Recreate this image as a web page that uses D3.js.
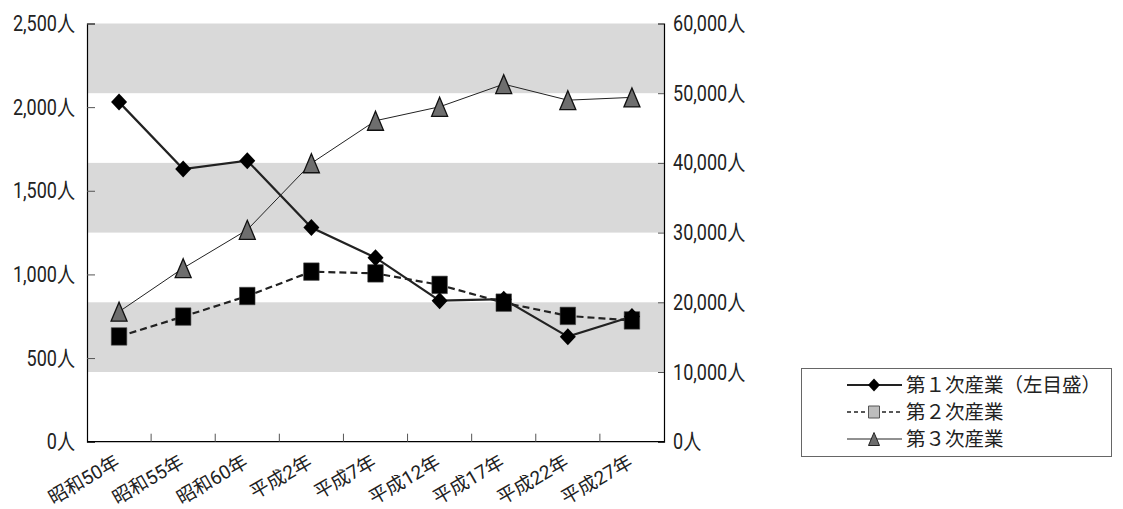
<!DOCTYPE html>
<html lang="ja">
<head>
<meta charset="utf-8">
<script src="https://cdn.jsdelivr.net/npm/d3@7"></script>
<style>
  html, body { margin: 0; padding: 0; background: #fff; }
  svg text { font-family: "Roboto", "Noto Sans CJK JP", sans-serif; fill: #222; }
</style>
</head>
<body>
<svg id="chart" width="1123" height="509"></svg>
<script>
// 産業別就業者数の推移
const years = ["昭和50年", "昭和55年", "昭和60年", "平成2年", "平成7年", "平成12年", "平成17年", "平成22年", "平成27年"];
const primary = [2030, 1630, 1680, 1280, 1100, 843, 852, 628, 748];          // 左目盛
const secondary = [15100, 17950, 20900, 24400, 24150, 22500, 19950, 18050, 17400]; // 右目盛
const tertiary = [18650, 24900, 30400, 39950, 46050, 48050, 51300, 49000, 49400];  // 右目盛
const leftTicks = [0, 500, 1000, 1500, 2000, 2500];
const rightTicks = [0, 10000, 20000, 30000, 40000, 50000, 60000];
const seriesNames = ["第１次産業（左目盛）", "第２次産業", "第３次産業"];

const svg = d3.select("#chart");
const plotL = 87, plotR = 664, plotT = 23.5, plotB = 441.7;

const x = d3.scaleBand().domain(years).range([plotL, plotR]).padding(0);
const yL = d3.scaleLinear().domain([0, 2500]).range([plotB, plotT]);
const yR = d3.scaleLinear().domain([0, 60000]).range([plotB, plotT]);
const cx = d => x(d) + x.bandwidth() / 2;

// 背景の帯(右目盛の区切りで交互に塗る)
const bands = [[50000, 60000], [30000, 40000], [10000, 20000]];
svg.append("g").selectAll("rect").data(bands).join("rect")
  .attr("x", plotL).attr("width", plotR - plotL)
  .attr("y", d => yR(d[1])).attr("height", d => yR(d[0]) - yR(d[1]))
  .attr("fill", "#d9d9d9");

const fmt = d3.format(",");
const squeeze = 0.82; // 目盛ラベルの横幅を詰める

// 左軸
const gL = svg.append("g").attr("transform", `translate(${plotL},0)`)
  .call(d3.axisLeft(yL).tickValues(leftTicks).tickSize(-8).tickFormat(d => fmt(d) + "人"));
// 右軸
const gR = svg.append("g").attr("transform", `translate(${plotR},0)`)
  .call(d3.axisRight(yR).tickValues(rightTicks).tickSize(-6).tickFormat(d => fmt(d) + "人"));
[[gL, -12], [gR, 9]].forEach(([g, pad]) => {
  g.select(".domain").attr("stroke", "#000").attr("stroke-width", 1.2);
  g.selectAll(".tick line").attr("stroke", "#555");
  g.selectAll(".tick text").attr("font-size", 22).attr("fill", "#222")
    .attr("x", pad / squeeze).attr("transform", `scale(${squeeze},1)`);
});
gL.selectAll(".tick").filter(d => d === 0).select("line").remove();
gR.selectAll(".tick").filter(d => d === 0 || d === 60000).select("line").remove();

// 下軸(目盛線は区間の境界)
const gB = svg.append("g").attr("transform", `translate(0,${plotB})`);
gB.append("line").attr("x1", plotL).attr("x2", plotR).attr("stroke", "#000").attr("stroke-width", 1.2);
const bounds = years.map(d => x(d)).concat([x(years[years.length - 1]) + x.bandwidth()]);
gB.selectAll("line.tk").data(bounds.slice(1, -1)).join("line").attr("class", "tk")
  .attr("x1", d => d).attr("x2", d => d).attr("y1", 0).attr("y2", -8).attr("stroke", "#555");
gB.selectAll("text").data(years).join("text")
  .attr("transform", d => `translate(${cx(d) + 2},${24}) rotate(-30)`)
  .attr("text-anchor", "end").attr("font-size", 19)
  .attr("font-family", "'Noto Sans CJK JP', sans-serif").text(d => d);

// マーカー形状(幅・高さ指定)
const makeShape = (w, h, kind) => ({
  draw(ctx) {
    const a = w / 2, b = h / 2;
    if (kind === "diamond") {
      ctx.moveTo(0, -b); ctx.lineTo(a, 0); ctx.lineTo(0, b); ctx.lineTo(-a, 0);
    } else if (kind === "square") {
      ctx.moveTo(-a, -b); ctx.lineTo(a, -b); ctx.lineTo(a, b); ctx.lineTo(-a, b);
    } else {
      ctx.moveTo(0, -b); ctx.lineTo(a, b); ctx.lineTo(-a, b);
    }
    ctx.closePath();
  }
});

// 系列線
const lineL = d3.line().x((d, i) => cx(years[i])).y(d => yL(d));
const lineR = d3.line().x((d, i) => cx(years[i])).y(d => yR(d));

svg.append("path").datum(tertiary).attr("d", lineR)
  .attr("fill", "none").attr("stroke", "#222").attr("stroke-width", 1);
svg.append("path").datum(secondary).attr("d", lineR)
  .attr("fill", "none").attr("stroke", "#222").attr("stroke-width", 2.2).attr("stroke-dasharray", "7,4");
svg.append("path").datum(primary).attr("d", lineL)
  .attr("fill", "none").attr("stroke", "#222").attr("stroke-width", 2.2);

// マーカー
svg.append("g").selectAll("path").data(tertiary).join("path")
  .attr("d", d3.symbol().type(makeShape(16, 19, "triangle"))())
  .attr("transform", (d, i) => `translate(${cx(years[i])},${yR(d)})`)
  .attr("fill", "#6e6e6e").attr("stroke", "#111").attr("stroke-width", 1.3).attr("stroke-linejoin", "miter");
svg.append("g").selectAll("path").data(secondary).join("path")
  .attr("d", d3.symbol().type(makeShape(15.5, 17.5, "square"))())
  .attr("transform", (d, i) => `translate(${cx(years[i])},${yR(d)})`)
  .attr("fill", "#000").attr("stroke", "#444").attr("stroke-width", 0.6);
svg.append("g").selectAll("path").data(primary).join("path")
  .attr("d", d3.symbol().type(makeShape(16, 17, "diamond"))())
  .attr("transform", (d, i) => `translate(${cx(years[i])},${yL(d)})`)
  .attr("fill", "#000");

// 凡例
const lg = svg.append("g");
lg.append("rect").attr("x", 801.5).attr("y", 368.5).attr("width", 310).attr("height", 88)
  .attr("fill", "#fff").attr("stroke", "#666").attr("stroke-width", 1);
const rowY = [385, 412, 439];
const lx1 = 847, lx2 = 902, lm = 874;
const styles = [
  { w: 2, dash: null, sym: makeShape(12, 13, "diamond"), fill: "#000", stroke: "none" },
  { w: 1.5, dash: "4,3", sym: makeShape(11, 12, "square"), fill: "#bdbdbd", stroke: "#555" },
  { w: 1, dash: null, sym: makeShape(11, 13, "triangle"), fill: "#6e6e6e", stroke: "#222" }
];
seriesNames.forEach((name, i) => {
  const s = styles[i];
  lg.append("line").attr("x1", lx1).attr("x2", lx2).attr("y1", rowY[i]).attr("y2", rowY[i])
    .attr("stroke", "#222").attr("stroke-width", s.w).attr("stroke-dasharray", s.dash);
  lg.append("path").attr("d", d3.symbol().type(s.sym)()).attr("transform", `translate(${lm},${rowY[i]})`)
    .attr("fill", s.fill).attr("stroke", s.stroke);
  lg.append("text").attr("x", 906).attr("y", rowY[i]).attr("dy", "0.36em")
    .attr("font-size", 19.5).attr("font-family", "'Noto Sans CJK JP', sans-serif").text(name);
});
</script>
</body>
</html>
